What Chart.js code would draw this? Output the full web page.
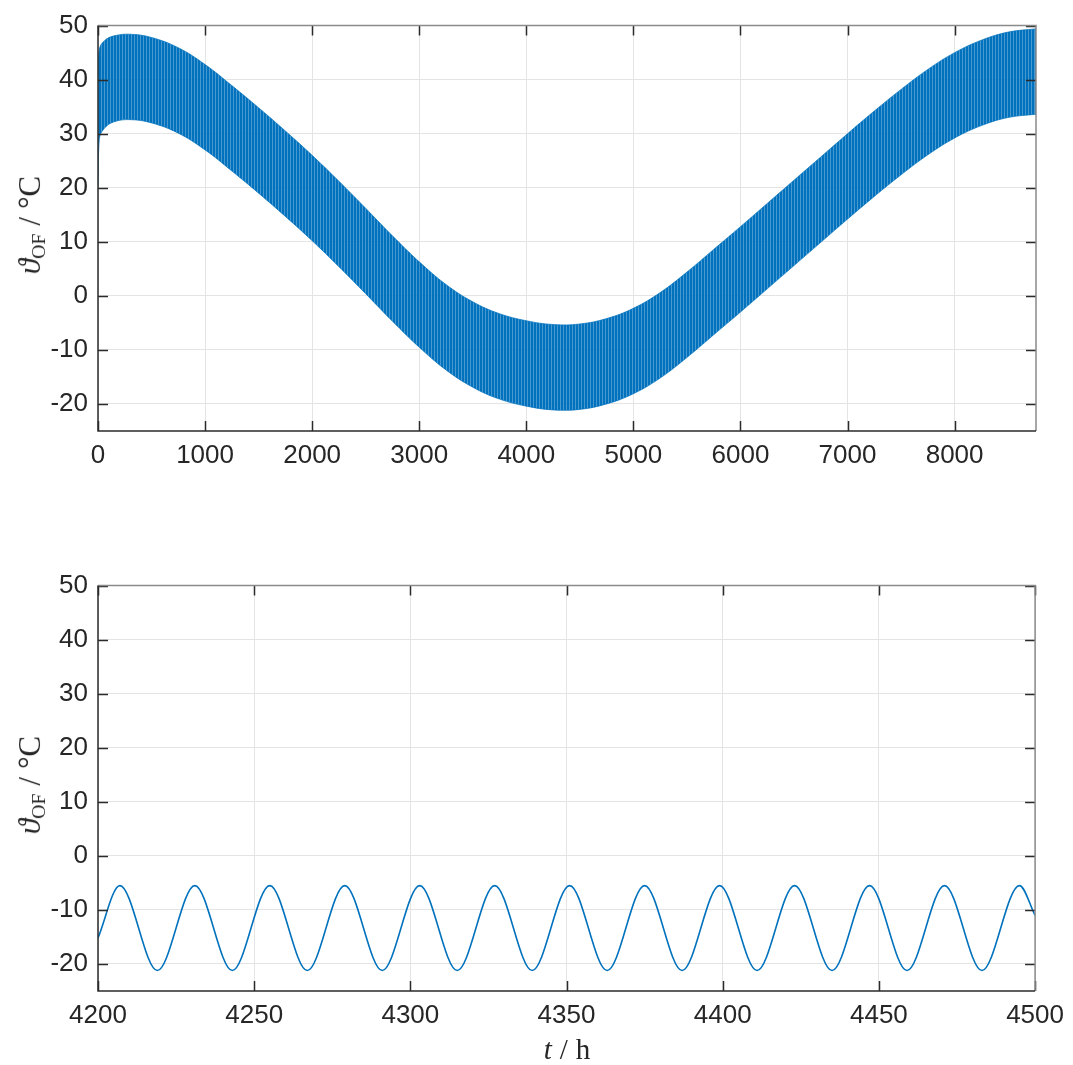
<!DOCTYPE html>
<html>
<head>
<meta charset="utf-8">
<script src="https://cdn.jsdelivr.net/npm/chart.js@4.4.0/dist/chart.umd.min.js"></script>
<style>
  html, body { margin: 0; padding: 0; background: #fff; }
  #wrap { position: relative; width: 1073px; height: 1065px; overflow: hidden; }
  canvas { position: absolute; left: 0; }
  #chartTop { top: 0; }
  #chartBottom { top: 560px; }
  .ylab, .xlab {
    position: absolute; white-space: nowrap; color: #262626;
    font-family: "Liberation Serif", "DejaVu Serif", serif; font-size: 31px;
  }
  .xlab { font-size: 29px; }
  .ylab { transform: translate(-50%, -50%) rotate(-90deg); }
  .xlab { transform: translate(-50%, -50%); }
  .ylab sub { font-size: 0.64em; vertical-align: -0.25em; }
  .sl { margin: 0 8px; }
</style>
</head>
<body>
<div id="wrap">
  <canvas id="chartTop" width="1073" height="480"></canvas>
  <canvas id="chartBottom" width="1073" height="480"></canvas>
  <div class="ylab" style="left:31px; top:225px;"><i>ϑ</i><sub>OF</sub><span class="sl">/</span>°C</div>
  <div class="ylab" style="left:31px; top:785px;"><i>ϑ</i><sub>OF</sub><span class="sl">/</span>°C</div>
  <div class="xlab" style="left:567px; top:1049px;"><i>t</i><span class="sl">/</span>h</div>
</div>
<script>
// Oberes Diagramm: Hüllkurven der Tagesschwingung über das ganze Jahr
const hoursTop = [0, 12, 60, 150, 300, 500, 750, 1000, 1250, 1500, 1750, 2000, 2250, 2500,
    2750, 3000, 3250, 3500, 3750, 4000, 4250, 4500, 4750, 5000, 5250, 5500, 5750, 6000,
    6250, 6500, 6750, 7000, 7250, 7500, 7750, 8000, 8250, 8500, 8760];
const upperTop = [41.0, 45.6, 47.2, 48.1, 48.4, 47.8, 45.9, 42.8, 38.9, 34.8, 30.5, 26.0, 21.2, 16.2,
    11.1, 6.3, 2.1, -1.1, -3.3, -4.6, -5.3, -5.2, -4.2, -2.3, 0.6, 4.4, 8.6, 12.8,
    17.1, 21.4, 25.7, 30.0, 34.2, 38.2, 41.9, 45.0, 47.3, 48.8, 49.4];
const lowerTop = [20.0, 29.0, 31.0, 32.2, 32.6, 32.0, 30.1, 27.0, 23.1, 19.0, 14.7, 10.2, 5.4, 0.4,
    -4.7, -9.5, -13.7, -16.9, -19.1, -20.4, -21.1, -21.0, -20.0, -18.1, -15.2, -11.4, -7.2, -3.0,
    1.3, 5.6, 9.9, 14.2, 18.4, 22.4, 26.1, 29.2, 31.5, 33.0, 33.6];

// Unteres Diagramm: Maxima und Minima zwischen 4200 h und 4500 h
const hoursBottom = [4200, 4207, 4219, 4231, 4243, 4255, 4267, 4279, 4291, 4303, 4315, 4327, 4339,
    4351, 4363, 4375, 4387, 4399, 4411, 4423, 4435, 4447, 4459, 4471, 4483, 4495, 4500];
const valuesBottom = [-15.2, -5.5, -21.2, -5.5, -21.2, -5.5, -21.2, -5.5, -21.2, -5.5, -21.2, -5.5, -21.2,
    -5.5, -21.2, -5.5, -21.2, -5.5, -21.2, -5.5, -21.2, -5.5, -21.2, -5.5, -21.2, -5.5, -11.0];

const yTicks = [-20, -10, 0, 10, 20, 30, 40, 50];
const xTicksTop = [0, 1000, 2000, 3000, 4000, 5000, 6000, 7000, 8000];
const xTicksBottom = [4200, 4250, 4300, 4350, 4400, 4450, 4500];

const blau = 'rgb(0,114,189)';
const tickFont = { family: '"Liberation Sans", Arial, sans-serif', size: 26 };

// feines Streifenmuster für das dichte Band
function bandMuster() {
    const c = document.createElement('canvas');
    c.width = 3; c.height = 4;
    const g = c.getContext('2d');
    g.fillStyle = blau;
    g.fillRect(0, 0, 2, 4);
    g.fillStyle = 'rgba(0,114,189,0.72)';
    g.fillRect(2, 0, 1, 4);
    return g.createPattern(c, 'repeat');
}

// Rahmen und nach innen zeigende Ticks (wie MATLAB)
const rahmen = {
    id: 'rahmen',
    afterDraw(chart) {
        const { ctx, chartArea: a, scales: { x, y } } = chart;
        ctx.save();
        ctx.lineWidth = 1.5;
        ctx.strokeStyle = '#2b2b2b';
        ctx.beginPath();
        x.ticks.forEach(t => {
            const px = Math.round(x.getPixelForValue(t.value)) + 0.5;
            ctx.moveTo(px, a.bottom); ctx.lineTo(px, a.bottom - 10);
            ctx.moveTo(px, a.top); ctx.lineTo(px, a.top + 10);
        });
        y.ticks.forEach(t => {
            const py = Math.round(y.getPixelForValue(t.value)) + 0.5;
            ctx.moveTo(a.left, py); ctx.lineTo(a.left + 10, py);
            ctx.moveTo(a.right, py); ctx.lineTo(a.right - 10, py);
        });
        ctx.stroke();
        ctx.strokeStyle = '#8a8a8a';
        ctx.beginPath();
        ctx.moveTo(a.left, a.top); ctx.lineTo(a.right, a.top); ctx.lineTo(a.right, a.bottom);
        ctx.stroke();
        ctx.strokeStyle = '#2b2b2b';
        ctx.beginPath();
        ctx.moveTo(a.left, a.top); ctx.lineTo(a.left, a.bottom); ctx.lineTo(a.right, a.bottom);
        ctx.stroke();
        ctx.restore();
    }
};

function diagramm(id, datasets, xMin, xMax, xTicks) {
    return new Chart(document.getElementById(id), {
        type: 'line',
        data: { datasets: datasets },
        options: {
            responsive: false,
            animation: false,
            devicePixelRatio: 1,
            layout: { padding: { top: 19, right: 37, left: 0, bottom: 0 } },
            plugins: { legend: { display: false }, tooltip: { enabled: false } },
            scales: {
                x: {
                    type: 'linear', min: xMin, max: xMax,
                    afterFit: s => { s.height = 49; },
                    afterBuildTicks: s => { s.ticks = xTicks.map(v => ({ value: v })); },
                    grid: { color: '#e4e4e4', lineWidth: 1, drawTicks: false },
                    border: { display: false },
                    ticks: { font: tickFont, color: '#262626', padding: 9, maxRotation: 0,
                             autoSkip: false, callback: v => String(v) }
                },
                y: {
                    type: 'linear', min: -25, max: 50,
                    afterFit: s => { s.width = 98; },
                    afterBuildTicks: s => { s.ticks = yTicks.map(v => ({ value: v })); },
                    grid: { color: '#e4e4e4', lineWidth: 1, drawTicks: false },
                    border: { display: false },
                    ticks: { font: tickFont, color: '#262626', padding: 10,
                             autoSkip: false, callback: v => String(v) }
                }
            }
        },
        plugins: [rahmen]
    });
}

document.addEventListener("DOMContentLoaded", function () {
    const muster = bandMuster();

    diagramm('chartTop', [
        {
            data: hoursTop.map((h, i) => ({ x: h, y: upperTop[i] })),
            borderColor: 'rgba(0,114,189,0.7)', borderWidth: 1,
            pointRadius: 0, tension: 0.4, fill: false
        },
        {
            data: hoursTop.map((h, i) => ({ x: h, y: lowerTop[i] })),
            borderColor: 'rgba(0,114,189,0.7)', borderWidth: 1,
            pointRadius: 0, tension: 0.4,
            fill: '-1', backgroundColor: muster
        }
    ], 0, 8760, xTicksTop);

    diagramm('chartBottom', [
        {
            data: hoursBottom.map((h, i) => ({ x: h, y: valuesBottom[i] })),
            borderColor: blau, borderWidth: 1.6,
            pointRadius: 0, cubicInterpolationMode: 'monotone', fill: false
        }
    ], 4200, 4500, xTicksBottom);
});
</script>
</body>
</html>
